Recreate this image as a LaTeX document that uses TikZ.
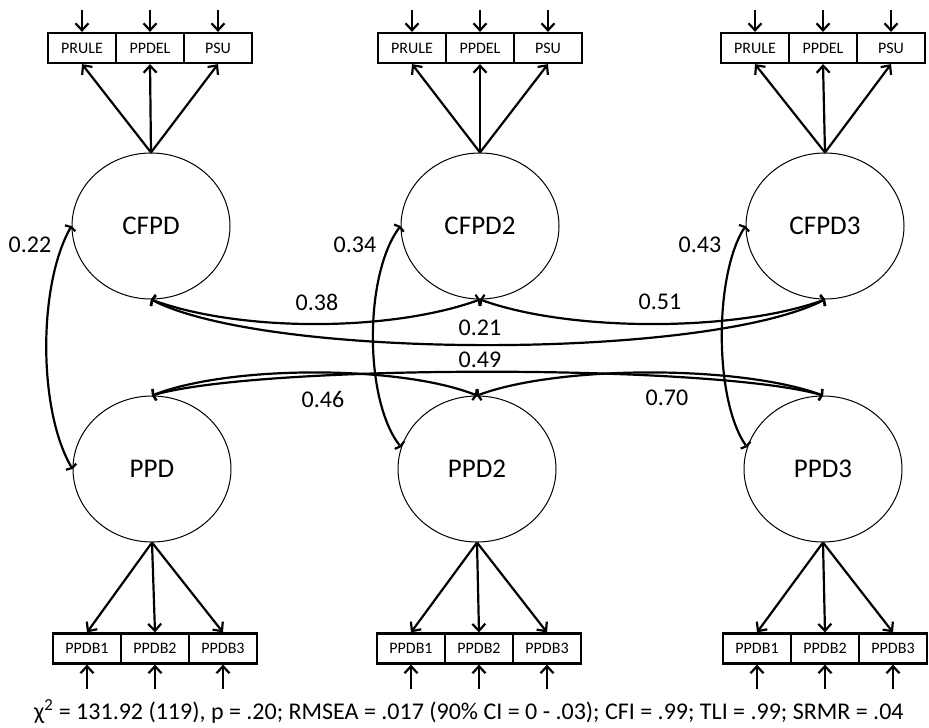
\documentclass[tikz,border=0pt]{standalone}
\usepackage{fontspec}
\setmainfont{Carlito}
\usetikzlibrary{shapes.geometric,arrows.meta,positioning}

\tikzset{
  latent/.style={ellipse, draw, line width=1pt, minimum width=158pt,
    minimum height=146pt, inner sep=0pt, font=\fontsize{27}{31}\selectfont},
  obsbox/.style={rectangle, draw, line width=2.2pt, minimum width=68pt,
    minimum height=30pt, inner sep=0pt, font=\fontsize{16}{18}\selectfont},
  load/.style={line width=2.2pt,
    -{Straight Barb[length=7pt,width=13pt]}},
  cov/.style={line width=2.2pt,
    {Straight Barb[length=1.5pt,width=12pt]}-{Straight Barb[length=1.5pt,width=12pt]}},
  coef/.style={font=\fontsize{24}{28}\selectfont, inner sep=0pt},
}

\begin{document}
\begin{tikzpicture}[x=1pt,y=-1pt]
\useasboundingbox (0,0) rectangle (929,728);

% latent factors
\node[latent] (cfpd)  at (151,226) {CFPD};
\node[latent] (cfpd2) at (480,226) {CFPD2};
\node[latent] (cfpd3) at (825,226) {CFPD3};
\node[latent] (ppd)   at (152,469) {PPD};
\node[latent] (ppd2)  at (477,469) {PPD2};
\node[latent] (ppd3)  at (823,469) {PPD3};

% indicators of the CFPD factors
\foreach \g/\cx in {1/150,2/480,3/823}{
  \node[obsbox] (pr\g) at (\cx-68,48) {PRULE};
  \node[obsbox] (pd\g) at (\cx,48)    {PPDEL};
  \node[obsbox] (ps\g) at (\cx+68,48) {PSU};
}
% indicators of the PPD factors
\foreach \g/\cx in {1/155,2/479,3/825}{
  \node[obsbox] (ba\g) at (\cx-68,648.5) {PPDB1};
  \node[obsbox] (bb\g) at (\cx,648.5)    {PPDB2};
  \node[obsbox] (bc\g) at (\cx+68,648.5) {PPDB3};
}

% loadings and residual arrows
\foreach \f/\g in {cfpd/1,cfpd2/2,cfpd3/3}{
  \foreach \b in {pr,pd,ps}{
    \draw[load] (\f.north) -- (\b\g.south);
    \coordinate[above=22pt of \b\g.north] (e\b\g);
    \draw[load] (e\b\g) -- (\b\g.north);
  }
}
\foreach \f/\g in {ppd/1,ppd2/2,ppd3/3}{
  \foreach \b in {ba,bb,bc}{
    \draw[load] (\f.south) -- (\b\g.north);
    \coordinate[below=24pt of \b\g.south] (e\b\g);
    \draw[load] (e\b\g) -- (\b\g.south);
  }
}

% covariances
\draw[cov] (cfpd.west)  .. controls (38,285) and (38,410) .. (ppd.west);
\draw[cov] (cfpd2.west) .. controls (364,275) and (364,400) .. (ppd2.164);
\draw[cov] (cfpd3.west) .. controls (714,275) and (714,400) .. (ppd3.164);

\draw[cov] (cfpd.south)  .. controls (240,332) and (390,332) .. (cfpd2.south);
\draw[cov] (cfpd2.south) .. controls (570,332) and (735,332) .. (cfpd3.south);
\draw[cov] (cfpd.south)  .. controls (270,360) and (705,360) .. (cfpd3.south);

\draw[cov] (ppd.north)  .. controls (230,365) and (400,365) .. (ppd2.north);
\draw[cov] (ppd2.north) .. controls (560,365) and (740,365) .. (ppd3.north);
\draw[cov] (ppd.north)  .. controls (260,364) and (715,364) .. (ppd3.north);

% coefficients
\node[coef] (k22) at (30,245)  {0.22};
\node[coef] (k34) at (355,245) {0.34};
\node[coef] (k43) at (700,245) {0.43};
\node[coef] (k38) at (317,302) {0.38};
\node[coef] (k51) at (660,302) {0.51};
\node[coef] (k21) at (480,328) {0.21};
\node[coef] (k49) at (480,360) {0.49};
\node[coef] (k46) at (323,399) {0.46};
\node[coef] (k70) at (667,398) {0.70};

% fit statistics
\node[anchor=west, inner sep=0pt, font=\fontsize{24}{28}\selectfont] (fit) at (34,712)
  {χ\textsuperscript{2} = 131.92 (119), p = .20; RMSEA = .017 (90\% CI = 0 - .03); CFI = .99; TLI = .99; SRMR = .04};
\end{tikzpicture}
\end{document}
